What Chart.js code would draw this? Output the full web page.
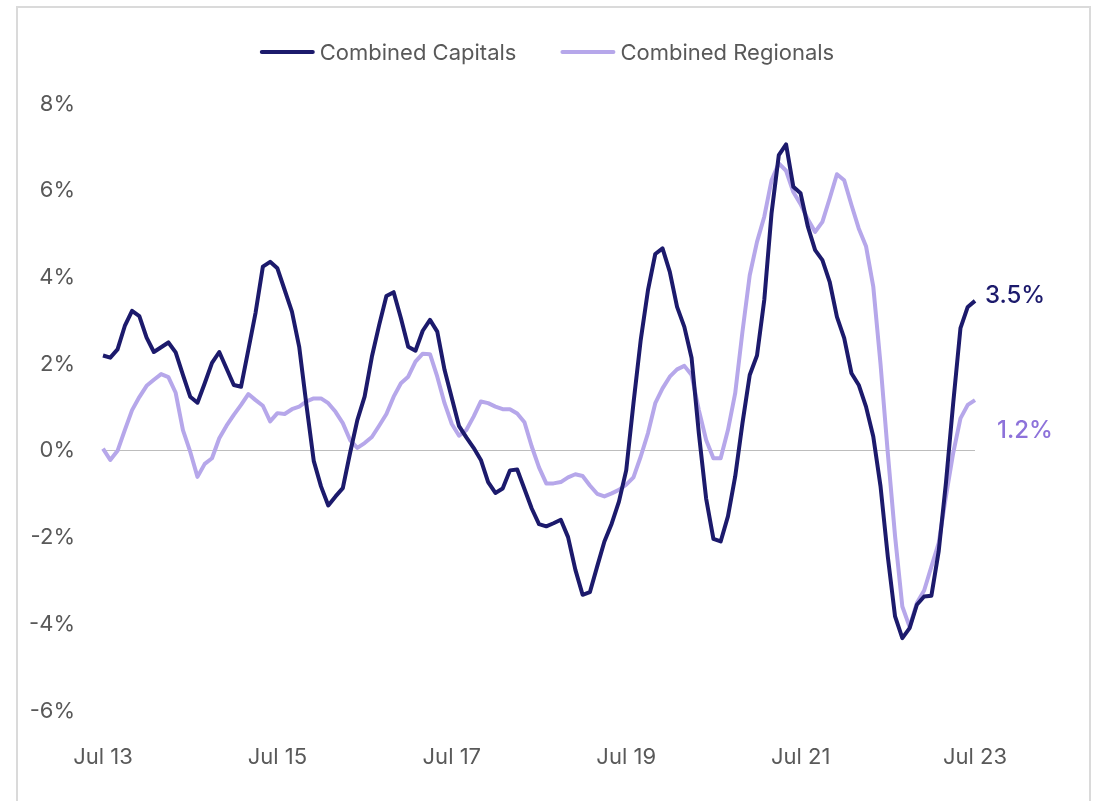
<!DOCTYPE html>
<html>
<head>
<meta charset="utf-8">
<script src="https://cdn.jsdelivr.net/npm/chart.js@4.4.0/dist/chart.umd.min.js"></script>
<style>
  html, body { margin: 0; padding: 0; background: #fff; }
  #wrap { position: relative; width: 1099px; height: 801px; }
</style>
</head>
<body>
<div id="wrap"><canvas id="myChart" width="1099" height="801"></canvas></div>
<script>
// monthly labels Jul 13 .. Jul 23
const monthNames = ['Jan','Feb','Mar','Apr','May','Jun','Jul','Aug','Sep','Oct','Nov','Dec'];
const labels = [];
for (let i = 0; i <= 120; i++) {
    const m = 6 + i;
    labels.push(monthNames[m % 12] + ' ' + (13 + Math.floor(m / 12)));
}

const capitals = [
    2.2, 2.15, 2.34, 2.88, 3.23, 3.11, 2.61, 2.28, 2.39, 2.5,
    2.27, 1.75, 1.25, 1.11, 1.56, 2.03, 2.28, 1.9, 1.52, 1.48,
    2.33, 3.19, 4.25, 4.36, 4.21, 3.71, 3.21, 2.4, 1.05, -0.23,
    -0.82, -1.26, -1.05, -0.86, -0.05, 0.71, 1.25, 2.17, 2.9, 3.57,
    3.66, 3.06, 2.4, 2.31, 2.77, 3.02, 2.75, 1.87, 1.22, 0.57,
    0.31, 0.07, -0.21, -0.72, -0.97, -0.87, -0.45, -0.43, -0.88, -1.33,
    -1.69, -1.74, -1.67, -1.59, -1.99, -2.74, -3.32, -3.26, -2.67, -2.09,
    -1.68, -1.17, -0.45, 1.1, 2.56, 3.71, 4.54, 4.67, 4.13, 3.32,
    2.86, 2.14, 0.4, -1.1, -2.03, -2.09, -1.51, -0.59, 0.64, 1.75,
    2.2, 3.48, 5.48, 6.82, 7.07, 6.09, 5.94, 5.17, 4.63, 4.4,
    3.9, 3.09, 2.6, 1.79, 1.52, 1.02, 0.33, -0.82, -2.44, -3.82,
    -4.32, -4.09, -3.55, -3.36, -3.34, -2.32, -0.74, 1.1, 2.83, 3.32,
    3.46
];

const regionals = [
    0.05, -0.21, 0.0, 0.48, 0.94, 1.24, 1.5, 1.64, 1.77, 1.7,
    1.34, 0.48, -0.02, -0.6, -0.3, -0.17, 0.29, 0.58, 0.83, 1.06,
    1.31, 1.17, 1.04, 0.68, 0.87, 0.85, 0.96, 1.02, 1.14, 1.21,
    1.21, 1.1, 0.9, 0.64, 0.25, 0.07, 0.18, 0.32, 0.58, 0.85,
    1.25, 1.56, 1.71, 2.06, 2.24, 2.23, 1.71, 1.1, 0.62, 0.35,
    0.48, 0.79, 1.14, 1.1, 1.02, 0.96, 0.96, 0.86, 0.66, 0.1,
    -0.38, -0.75, -0.75, -0.72, -0.61, -0.54, -0.58, -0.8, -0.99, -1.05,
    -0.98, -0.9, -0.78, -0.61, -0.13, 0.41, 1.1, 1.44, 1.71, 1.88,
    1.96, 1.75, 0.94, 0.25, -0.17, -0.17, 0.48, 1.33, 2.75, 4.05,
    4.82, 5.4, 6.24, 6.63, 6.46, 5.97, 5.69, 5.34, 5.05, 5.28,
    5.82, 6.38, 6.24, 5.67, 5.13, 4.72, 3.79, 2.0, -0.05, -1.97,
    -3.59, -4.06, -3.51, -3.22, -2.67, -2.13, -1.05, -0.05, 0.75, 1.06,
    1.17
];

const seriesNames = ['Combined Capitals', 'Combined Regionals'];
const seriesColors = ['#1c1a6c', '#b6a7ea'];
const endLabels = ['3.5%', '1.2%'];
const endLabelColors = ['#1c1a6c', '#8d72da'];
const yMin = -6, yMax = 8, yStep = 2;

const FONT = 'Inter, "Noto Sans", sans-serif';
const TEXT = '#595959';

// light grey frame round the chart
const framePlugin = {
    id: 'frame',
    beforeDraw(chart) {
        const ctx = chart.ctx;
        ctx.save();
        ctx.fillStyle = '#fff';
        ctx.fillRect(0, 0, chart.width, chart.height);
        ctx.strokeStyle = '#dadada';
        ctx.lineWidth = 2;
        ctx.strokeRect(17, 7, 1073, 900);
        ctx.restore();
    }
};

// legend drawn by hand so the spacing can match
const legendPlugin = {
    id: 'lineLegend',
    afterDraw(chart) {
        const ctx = chart.ctx;
        ctx.save();
        ctx.font = '22px ' + FONT;
        const sample = 55, gap = 5, between = 44;
        const widths = seriesNames.map(n => sample + gap + ctx.measureText(n).width);
        const total = widths[0] + between + widths[1];
        let x = 547 - total / 2;
        const y = 52;
        seriesNames.forEach((name, i) => {
            ctx.strokeStyle = seriesColors[i];
            ctx.lineWidth = 4;
            ctx.lineCap = 'round';
            ctx.beginPath();
            ctx.moveTo(x + 2, y);
            ctx.lineTo(x + sample - 2, y);
            ctx.stroke();
            ctx.fillStyle = TEXT;
            ctx.textBaseline = 'middle';
            ctx.textAlign = 'left';
            ctx.fillText(name, x + sample + gap, y + 1);
            x += widths[i] + between;
        });
        ctx.restore();
    }
};

// value labels at the end of each line
const endLabelPlugin = {
    id: 'endLabels',
    afterDatasetsDraw(chart) {
        const ctx = chart.ctx;
        const offsets = [[10, -5], [22, 31]];
        ctx.save();
        ctx.font = '500 24px ' + FONT;
        ctx.textAlign = 'left';
        ctx.textBaseline = 'middle';
        chart.data.datasets.forEach((ds, i) => {
            const meta = chart.getDatasetMeta(i);
            const pt = meta.data[meta.data.length - 1];
            ctx.fillStyle = endLabelColors[i];
            ctx.fillText(endLabels[i], pt.x + offsets[i][0], pt.y + offsets[i][1]);
        });
        ctx.restore();
    }
};

const ctx = document.getElementById('myChart').getContext('2d');
new Chart(ctx, {
    type: 'line',
    data: {
        labels: labels,
        datasets: [
            { label: seriesNames[0], data: capitals, borderColor: seriesColors[0], borderWidth: 4, pointRadius: 0, tension: 0, borderJoinStyle: 'round' },
            { label: seriesNames[1], data: regionals, borderColor: seriesColors[1], borderWidth: 4, pointRadius: 0, tension: 0, borderJoinStyle: 'round' }
        ]
    },
    options: {
        responsive: false,
        animation: false,
        devicePixelRatio: 1,
        layout: { padding: { top: 104, right: 124, bottom: 0, left: 0 } },
        plugins: {
            legend: { display: false },
            tooltip: { enabled: false }
        },
        scales: {
            x: {
                grid: { display: false },
                border: { display: false },
                afterFit(scale) { scale.height = 90; },
                ticks: {
                    autoSkip: false,
                    maxRotation: 0,
                    padding: 25,
                    color: TEXT,
                    font: { family: FONT, size: 22 },
                    callback(val, idx) { return idx % 24 === 0 ? labels[idx] : null; }
                }
            },
            y: {
                min: yMin,
                max: yMax,
                border: { display: false },
                afterFit(scale) { scale.width = 103; },
                grid: {
                    drawTicks: false,
                    color: c => c.tick.value === 0 ? '#bdbdbd' : 'rgba(0,0,0,0)',
                    lineWidth: 1
                },
                ticks: {
                    stepSize: yStep,
                    padding: 28,
                    color: TEXT,
                    font: { family: FONT, size: 22 },
                    callback: v => v + '%'
                }
            }
        }
    },
    plugins: [framePlugin, legendPlugin, endLabelPlugin]
});
</script>
</body>
</html>
